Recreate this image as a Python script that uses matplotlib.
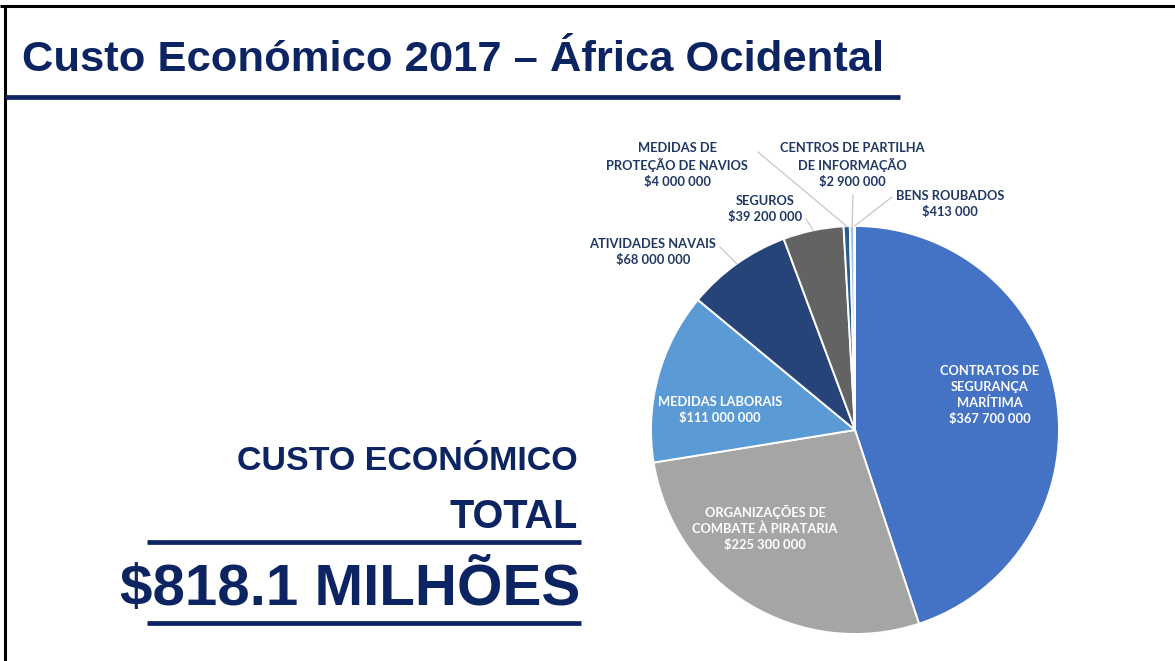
import numpy as np
import matplotlib.pyplot as plt

W, H = 1175, 661

categories = [
    "CONTRATOS DE\nSEGURANÇA\nMARÍTIMA",
    "ORGANIZAÇÕES DE\nCOMBATE À PIRATARIA",
    "MEDIDAS LABORAIS",
    "ATIVIDADES NAVAIS",
    "SEGUROS",
    "MEDIDAS DE\nPROTEÇÃO DE NAVIOS",
    "CENTROS DE PARTILHA\nDE INFORMAÇÃO",
    "BENS ROUBADOS",
]
values = [367700000, 225300000, 111000000, 68000000, 39200000, 4000000, 2900000, 413000]
value_labels = ["$367 700 000", "$225 300 000", "$111 000 000", "$68 000 000",
                "$39 200 000", "$4 000 000", "$2 900 000", "$413 000"]
colors = ["#4472C4", "#A5A5A5", "#5B9BD5", "#264478", "#636363", "#255E91", "#9DC3E6", "#698ED0"]

total_label = "$818.1 MILHÕES"
title = "Custo Económico 2017 – África Ocidental"

NAVY = "#0c2461"
LABEL_NAVY = "#1f3864"
LABEL_FONT = ["Lato", "DejaVu Sans"]

fig = plt.figure(figsize=(W / 100, H / 100), dpi=100)
ax = fig.add_axes([0, 0, 1, 1])


def py(y):
    # pixel row (from top) to data y
    return H - y


# slide frame (top and left edge only)
ax.plot([0, W], [py(6), py(6)], color="black", lw=2.2, solid_capstyle="butt")
ax.plot([5, 5], [py(6), 0], color="black", lw=2.2, solid_capstyle="butt")

# title and underline
ax.text(22, py(60), title, fontsize=31.3, fontweight="bold", color=NAVY,
        family=["Liberation Sans", "DejaVu Sans"], ha="left", va="center")
ax.plot([5, 900], [py(97), py(97)], color=NAVY, lw=3.4, solid_capstyle="butt")

# total block on the left
big_font = ["Liberation Sans", "DejaVu Sans"]
ax.text(578, py(470), "CUSTO ECONÓMICO", fontsize=24.5, fontweight="bold", color=NAVY,
        family=big_font, ha="right", va="baseline")
ax.text(578, py(528), "TOTAL", fontsize=28.5, fontweight="bold", color=NAVY,
        family=big_font, ha="right", va="baseline")
ax.plot([147, 581], [py(542), py(542)], color=NAVY, lw=3.4, solid_capstyle="butt")
ax.text(580, py(605), total_label, fontsize=42, fontweight="bold", color=NAVY,
        family=big_font, ha="right", va="baseline")
ax.plot([147, 581], [py(623), py(623)], color=NAVY, lw=3.4, solid_capstyle="butt")

# pie
cx, cy, r = 855, py(430), 204
wedges, _ = ax.pie(values, colors=colors, startangle=90, counterclock=False,
                   center=(cx, cy), radius=r,
                   wedgeprops=dict(edgecolor="white", linewidth=1.4))

ax.set_xlim(0, W)
ax.set_ylim(0, H)
ax.set_aspect("auto")
ax.axis("off")


def edge_point(w, frac=1.0):
    ang = np.deg2rad((w.theta1 + w.theta2) / 2)
    return cx + r * frac * np.cos(ang), cy + r * frac * np.sin(ang)


# labels inside the big slices (pixel positions of the label centres)
inside_pos = {0: (990, 395), 1: (765, 528), 2: (720, 410)}
for i, (x, y) in inside_pos.items():
    ax.text(x, py(y), categories[i] + "\n" + value_labels[i], color="white",
            fontsize=9.3, fontweight="bold", family=LABEL_FONT,
            ha="center", va="center", linespacing=1.38)

# labels outside for the small slices, with leader lines
outside_pos = {
    3: (653, 252, (720, 247)),
    4: (765, 209, (806, 219)),
    5: (677, 165, (758, 152)),
    6: (852, 165, (853, 195)),
    7: (950, 204, (892, 197)),
}
for i, (x, y, (lx, ly)) in outside_pos.items():
    ax.text(x, py(y), categories[i] + "\n" + value_labels[i], color=LABEL_NAVY,
            fontsize=9.3, fontweight="bold", family=LABEL_FONT,
            ha="center", va="center", linespacing=1.38)
    ex, ey = edge_point(wedges[i], 1.0)
    ax.plot([lx, ex], [py(ly), ey], color="#c8c8c8", lw=0.9)

fig.savefig("out.png", dpi=100, facecolor="white")
